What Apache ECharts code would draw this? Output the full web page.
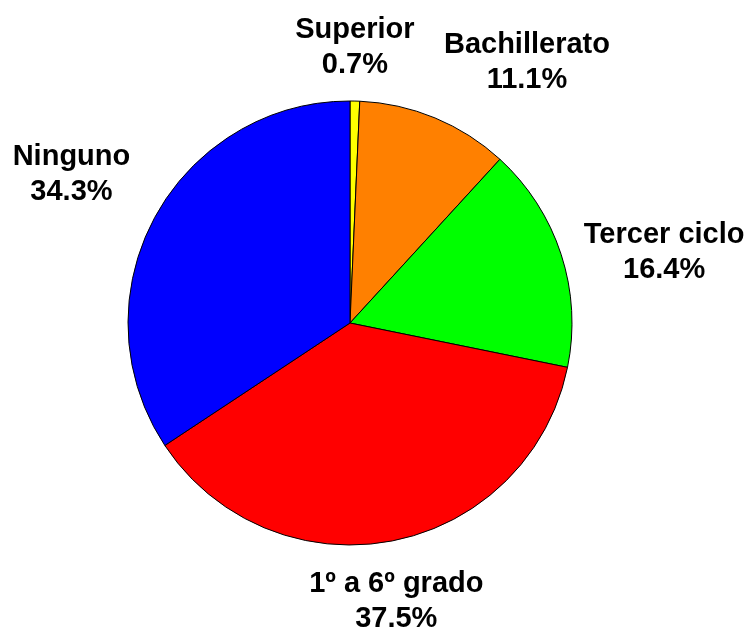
<!DOCTYPE html>
<html>
<head>
<meta charset="utf-8">
<script src="https://cdn.jsdelivr.net/npm/echarts@6/dist/echarts.min.js"></script>
<style>
  html, body { margin: 0; padding: 0; background: #fff; }
  #chart { width: 751px; height: 632px; }
</style>
</head>
<body>
<div id="chart"></div>
<script>
// niveles educativos, en orden horario desde arriba
const categories = ['Superior', 'Bachillerato', 'Tercer ciclo', '1º a 6º grado', 'Ninguno']
const percents = [0.7, 11.1, 16.4, 37.5, 34.3]
const colors = ['#FFFF00', '#FF8000', '#00FF00', '#FF0000', '#0000FF']

// desplazamiento de cada etiqueta respecto a su punto en el borde
const labelNudge = [[0, -54], [92, -55], [103, -2], [4, 61], [-83, -43]]

const chart = echarts.init(document.getElementById('chart'))

const option = {
  backgroundColor: '#ffffff',
  animation: false,
  series: [
    {
      type: 'pie',
      center: [350, 323],
      radius: 222,
      startAngle: 90,
      clockwise: true,
      percentPrecision: 1,
      avoidLabelOverlap: false,
      emphasis: { disabled: true },
      itemStyle: {
        borderColor: '#000000',
        borderWidth: 1,
      },
      label: {
        show: true,
        position: 'outside',
        formatter: '{b}\n{d}%',
        color: '#000000',
        fontFamily: 'Liberation Sans, Arial, sans-serif',
        fontWeight: 'bold',
        fontSize: 29,
        lineHeight: 35,
        distanceToLabelLine: 0,
      },
      labelLine: {
        show: false,
        length: 0,
        length2: 0,
      },
      labelLayout: function (params) {
        const n = labelNudge[params.dataIndex]
        return { align: 'center', verticalAlign: 'middle', dx: n[0], dy: n[1] }
      },
      data: categories.map((name, i) => ({
        name: name,
        value: percents[i],
        itemStyle: { color: colors[i] },
      })),
    },
  ],
}

chart.setOption(option)
</script>
</body>
</html>
